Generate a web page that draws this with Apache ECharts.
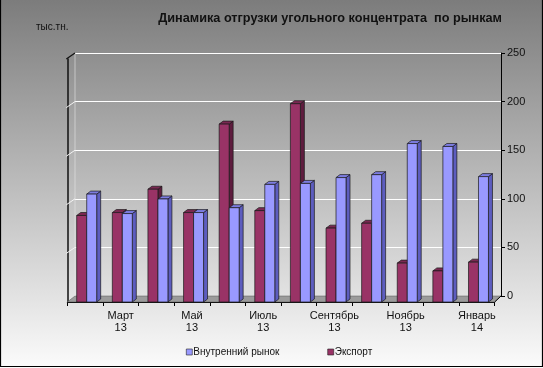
<!DOCTYPE html>
<html><head><meta charset="utf-8">
<script src="https://cdn.jsdelivr.net/npm/echarts@6/dist/echarts.min.js"></script>
<style>html,body{margin:0;padding:0;background:#fff}#c{width:543px;height:368px}</style>
</head><body><div id="c"></div>
<script>
const categories = ['Февраль\n13','Март\n13','Апрель\n13','Май\n13','Июнь\n13','Июль\n13','Август\n13','Сентябрь\n13','Октябрь\n13','Ноябрь\n13','Декабрь\n13','Январь\n14'];
const exportVals = [89, 92, 116, 92, 183, 94, 204, 76, 81, 40, 32, 41];
const domesticVals = [111, 91, 106, 92, 97, 121, 122, 128, 131, 163, 160, 129];
const yTicks = [0, 50, 100, 150, 200, 250];
const titleText = 'Динамика отгрузки угольного концентрата  по рынкам';
const unitText = 'тыс.тн.';
const seriesNames = ['Экспорт', 'Внутренний рынок'];

const W = 543, H = 368;
const FONT = 'Arial, "Liberation Sans", sans-serif';
const DX = 4, DY = -3;

function make3D(offsetFrac, colors) {
  return function (params, api) {
    const idx = api.value(0), v = api.value(1);
    const base = api.coord([idx, 0]);
    const top = api.coord([idx, v]);
    const bw = api.size([1, 0])[0];
    const w = bw * 0.28;
    const x0 = base[0] + offsetFrac * bw;
    const x1 = x0 + w;
    const yt = top[1], yb = base[1];
    const stroke = {stroke: '#1a1a1a', lineWidth: 0.7};
    return {
      type: 'group',
      children: [
        {type: 'polygon', shape: {points: [[x1, yt], [x1 + DX, yt + DY], [x1 + DX, yb + DY], [x1, yb]]},
          style: Object.assign({fill: colors[1]}, stroke)},
        {type: 'polygon', shape: {points: [[x0, yt], [x0 + DX, yt + DY], [x1 + DX, yt + DY], [x1, yt]]},
          style: Object.assign({fill: colors[2]}, stroke)},
        {type: 'rect', shape: {x: x0, y: yt, width: w, height: yb - yt},
          style: Object.assign({fill: colors[0]}, stroke)}
      ]
    };
  };
}

const chart = echarts.init(document.getElementById('c'), null, {renderer: 'canvas'});
const option = {
  animation: false,
  title: [
    {text: titleText, right: 41, top: 12, padding: 0, textStyle: {fontFamily: FONT, fontSize: 12.7, fontWeight: 'bold', color: '#111'}},
    {text: unitText, left: 36, top: 22, padding: 0, textStyle: {fontFamily: FONT, fontSize: 10, fontWeight: 'normal', color: '#111'}}
  ],
  legend: {
    data: [seriesNames[1], seriesNames[0]],
    left: 186, top: 347, padding: 0,
    itemWidth: 6, itemHeight: 6, itemGap: 48,
    icon: 'rect',
    itemStyle: {borderColor: '#222', borderWidth: 0.6},
    textStyle: {fontFamily: FONT, fontSize: 10, color: '#111', padding: [0, 0, 0, -4]}
  },
  grid: [
    {left: 67.3, top: 59, width: 427.4, height: 243},
    {left: 75, top: 53, width: 426, height: 243}
  ],
  xAxis: [
    {type: 'category', gridIndex: 0, data: categories,
      axisLine: {show: true, lineStyle: {color: '#000', width: 1}},
      axisTick: {show: true, length: 4, interval: 0, lineStyle: {color: '#000'}},
      axisLabel: {interval: function (i) { return i % 2 === 1; }, fontFamily: FONT, fontSize: 11, color: '#111', lineHeight: 12, margin: 8},
      splitLine: {show: false}},
    {type: 'category', gridIndex: 1, data: categories, show: false}
  ],
  yAxis: [
    {type: 'value', gridIndex: 0, min: 0, max: 250, interval: 50,
      axisLine: {show: true, lineStyle: {color: '#111', width: 1.5}},
      axisTick: {show: false}, axisLabel: {show: false}, splitLine: {show: false}},
    {type: 'value', gridIndex: 1, min: 0, max: 250, interval: 50, position: 'right',
      axisLine: {show: true, lineStyle: {color: '#000', width: 1}},
      axisTick: {show: true, length: 4, lineStyle: {color: '#000'}},
      axisLabel: {fontFamily: FONT, fontSize: 11, color: '#111', margin: 6},
      splitLine: {show: true, lineStyle: {color: '#ffffff', width: 1.2}}}
  ],
  series: [
    {name: seriesNames[0], type: 'custom', xAxisIndex: 0, yAxisIndex: 0,
      itemStyle: {color: '#993366'},
      renderItem: make3D(-0.236, ['#993366', '#5e1c3e', '#7a2852']),
      encode: {x: 0, y: 1},
      data: exportVals.map((v, i) => [i, v]), z: 5},
    {name: seriesNames[1], type: 'custom', xAxisIndex: 0, yAxisIndex: 0,
      itemStyle: {color: '#9999ff'},
      renderItem: make3D(0.045, ['#9999ff', '#5d5dbf', '#7c7ce0']),
      encode: {x: 0, y: 1},
      data: domesticVals.map((v, i) => [i, v]), z: 6}
  ],
  graphic: [
    {type: 'rect', id: 'bg', z: -100, silent: true, shape: {x: 0, y: 0, width: W, height: H},
      style: {fill: new echarts.graphic.LinearGradient(0, 0, 0, 1, [{offset: 0, color: '#7c7c7c'}, {offset: 1, color: '#fbfbfb'}])}}
  ]
};
chart.setOption(option);

// decorations (floor, left wall) derived from the axes' own scales
const nCat = categories.length;
const fx0 = chart.convertToPixel({xAxisIndex: 0}, 0) - (chart.convertToPixel({xAxisIndex: 0}, 1) - chart.convertToPixel({xAxisIndex: 0}, 0)) / 2;
const fx1 = chart.convertToPixel({xAxisIndex: 0}, nCat - 1) + (chart.convertToPixel({xAxisIndex: 0}, 1) - chart.convertToPixel({xAxisIndex: 0}, 0)) / 2;
const fy0 = chart.convertToPixel({yAxisIndex: 0}, 0);
const bx0 = chart.convertToPixel({xAxisIndex: 1}, 0) - (chart.convertToPixel({xAxisIndex: 1}, 1) - chart.convertToPixel({xAxisIndex: 1}, 0)) / 2;
const bx1 = chart.convertToPixel({xAxisIndex: 1}, nCat - 1) + (chart.convertToPixel({xAxisIndex: 1}, 1) - chart.convertToPixel({xAxisIndex: 1}, 0)) / 2;
const by0 = chart.convertToPixel({yAxisIndex: 1}, 0);
const gfx = [
  {type: 'polygon', id: 'floor', z: 1, silent: true,
    shape: {points: [[fx0, fy0], [fx1, fy0], [bx1, by0], [bx0, by0]]},
    style: {fill: '#9b9b9b', stroke: '#555', lineWidth: 0.5}},
  {type: 'line', id: 'floorR', z: 3, silent: true, shape: {x1: fx1, y1: fy0, x2: bx1, y2: by0}, style: {stroke: '#000', lineWidth: 1}},
  {type: 'line', id: 'backL', z: 1, silent: true, shape: {x1: bx0, y1: by0, x2: bx0, y2: chart.convertToPixel({yAxisIndex: 1}, 250)}, style: {stroke: '#e8e8e8', lineWidth: 0.6}}
];
yTicks.forEach((t, i) => {
  if (t === 0) return;
  const yf = chart.convertToPixel({yAxisIndex: 0}, t);
  const yb = chart.convertToPixel({yAxisIndex: 1}, t);
  gfx.push({type: 'line', id: 'lw' + i, z: 2, silent: true,
    shape: {x1: fx0 - 1, y1: yf, x2: bx0, y2: yb},
    style: {stroke: t === 250 ? '#111' : '#f4f4f4', lineWidth: t === 250 ? 1.2 : 1}});
});
gfx.push({type: 'rect', id: 'border', z: 100, silent: true, shape: {x: 0.5, y: -1, width: W - 1, height: H - 0.5},
  style: {fill: 'none', stroke: '#000', lineWidth: 1.2}});
chart.setOption({graphic: gfx});
</script>
</body></html>
